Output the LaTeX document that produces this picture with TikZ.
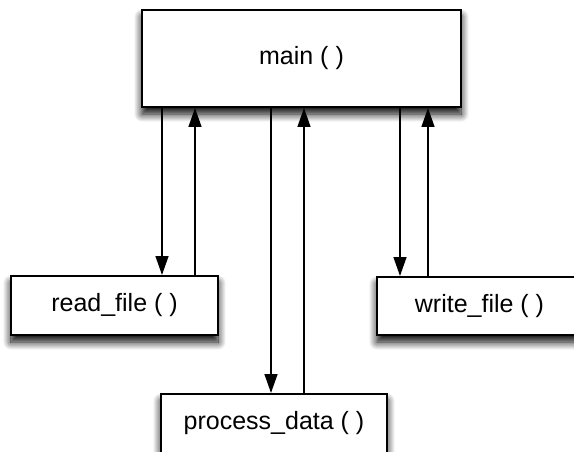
\documentclass[tikz,border=0pt]{standalone}
\usepackage{fontspec}
\setmainfont{Liberation Sans}
\usetikzlibrary{arrows.meta,shadows.blur}

\tikzset{
  func/.style={draw=black, line width=2pt, fill=white, inner sep=0pt,
    font=\fontsize{25}{29}\selectfont,
    blur shadow={shadow xshift=0pt, shadow yshift=-7pt,
                 shadow blur radius=8pt, shadow blur steps=12,
                 shadow opacity=100}},
  call/.style={line width=1.4pt, -{Triangle[width=13pt,length=19pt]}}
}

\begin{document}
\begin{tikzpicture}[x=1pt, y=-1pt]
  \useasboundingbox (0,0) rectangle (574,452);

  % function boxes
  \node[func, minimum width=319pt, minimum height=97pt] (main)    at (301.5,58.5) {main ( )};
  \node[func, minimum width=207pt, minimum height=59pt] (read)    at (114.5,305.5) {read\_file ( )};
  \node[func, minimum width=205pt, minimum height=58pt] (write)   at (479.5,306) {write\_file ( )};
  \node[func, minimum width=226pt, minimum height=59pt] (process) at (274,423.5) {process\_data ( )};

  % x positions of the call and return lines
  \coordinate (rdc) at (162,0);
  \coordinate (rdr) at (195,0);
  \coordinate (pdc) at (271,0);
  \coordinate (pdr) at (304,0);
  \coordinate (wfc) at (400,0);
  \coordinate (wfr) at (428,0);

  % calls from main and returns to it
  \draw[call] (main.south -| rdc) -- (read.north -| rdc);
  \draw[call] (read.north -| rdr) -- (main.south -| rdr);
  \draw[call] (main.south -| pdc) -- (process.north -| pdc);
  \draw[call] (process.north -| pdr) -- (main.south -| pdr);
  \draw[call] (main.south -| wfc) -- (write.north -| wfc);
  \draw[call] (write.north -| wfr) -- (main.south -| wfr);
\end{tikzpicture}
\end{document}
